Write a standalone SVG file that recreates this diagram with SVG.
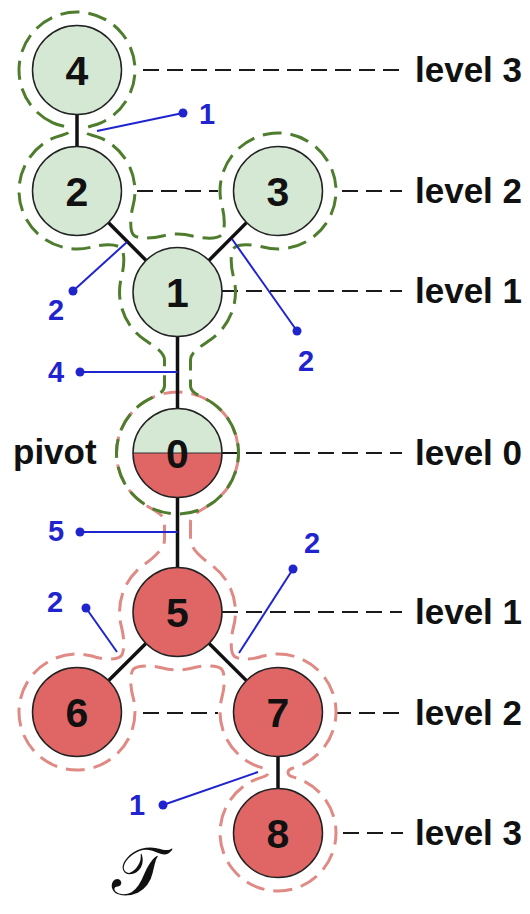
<svg xmlns="http://www.w3.org/2000/svg" width="530" height="914" viewBox="0 0 530 914">
  <style>
    .hull { fill: none; stroke-width: 3; stroke-dasharray: 19 9; stroke-linecap: butt; }
    .hull-g { stroke: #4e7d2e; }
    .hull-r { stroke: #df8a84; }
    .lvl { stroke: #1a1a1a; stroke-width: 2.2; stroke-dasharray: 16 8; fill: none; }
    .lvl-txt { font-family: "Liberation Sans", Arial, sans-serif; font-weight: bold; font-size: 35px; fill: #111; }
    .edge { stroke: #111; stroke-width: 3.5; }
    .node { stroke: #222; stroke-width: 1.5; }
    .g { fill: #d5e8d4; }
    .r { fill: #e06666; }
    .num { font-family: "Liberation Sans", Arial, sans-serif; font-weight: bold; font-size: 41px; fill: #111; text-anchor: middle; }
    .ann { stroke: #1f24cf; stroke-width: 2; fill: none; }
    .dot { fill: #1f24cf; }
    .ann-txt { font-family: "Liberation Sans", Arial, sans-serif; font-weight: bold; font-size: 29px; fill: #1f24cf; text-anchor: middle; }
  </style>

  <!-- level guide lines -->
  <g id="levels">
    <line class="lvl" x1="143" y1="70" x2="400" y2="70"/>
    <line class="lvl" x1="137" y1="191" x2="218" y2="191"/>
    <line class="lvl" x1="342" y1="191" x2="402" y2="191"/>
    <line class="lvl" x1="222" y1="291" x2="402" y2="291"/>
    <line class="lvl" x1="222" y1="453" x2="402" y2="453"/>
    <line class="lvl" x1="222" y1="612" x2="402" y2="612"/>
    <line class="lvl" x1="143" y1="713" x2="218" y2="713"/>
    <line class="lvl" x1="335" y1="713" x2="405" y2="713"/>
    <line class="lvl" x1="343" y1="833" x2="403" y2="833"/>
    <text class="lvl-txt" x="415" y="82">level 3</text>
    <text class="lvl-txt" x="415" y="203">level 2</text>
    <text class="lvl-txt" x="415" y="303">level 1</text>
    <text class="lvl-txt" x="415" y="465">level 0</text>
    <text class="lvl-txt" x="415" y="624">level 1</text>
    <text class="lvl-txt" x="415" y="725">level 2</text>
    <text class="lvl-txt" x="415" y="845">level 3</text>
  </g>

  <!-- dashed hulls around the two subtrees -->
  <g id="hulls">
    <path id="hull-lower" class="hull hull-r" d="M 142.5,503 A 61 61 0 1 1 212.5,503 C 202.7,509.9 190.5,514 190.5,522 L 190.5,540 C 190.5,548 201,557.6 210.8,564.5 A 58 58 0 0 1 233.5,627 C 230.9,636.7 229.9,651.9 234.1,656.1 C 238.3,660.3 253.3,659.6 263,656 A 58 58 0 0 1 302.5,764.6 C 293.4,768.8 288,768 288,772.5 C 288,777 293.4,776.2 302.5,780.4 A 58 58 0 1 1 253.5,780.4 C 262.6,776.2 268,777 268,772.5 C 268,768 262.6,768.8 253.5,764.6 A 58 58 0 0 1 222,697 C 224.6,687.3 225.6,673.1 221.4,668.9 C 217.2,664.7 202.2,665.4 192.5,668 A 58 58 0 0 1 162.5,668 C 152.8,665.4 137.8,664.7 133.6,668.9 C 129.4,673.1 130.4,688.3 133,697 A 58 58 0 1 1 92,656 C 101.7,659.6 116.7,660.3 120.9,656.1 C 125.1,651.9 124.1,636.7 121.5,627 A 58 58 0 0 1 144.2,564.5 C 154,557.6 164.5,548 164.5,540 L 164.5,522 C 164.5,514 152.3,509.9 142.5,503 Z"/>
    <path id="hull-upper" class="hull hull-g" d="M 52.5,122.6 A 58 58 0 1 1 101.5,122.6 C 92.4,126.8 85,126 85,130.5 C 85,135 92.4,134.2 101.5,138.4 A 58 58 0 0 1 133,206 C 130.4,215.7 129.4,230.9 133.6,235.1 C 137.8,239.3 152.8,238.6 162.5,236 A 58 58 0 0 1 192.5,236 C 202.2,238.6 217.2,239.3 221.4,235.1 C 225.6,230.9 224.6,215.7 222,206 A 58 58 0 1 1 263,247 C 253.3,244.4 238.3,243.7 234.1,247.9 C 229.9,252.1 230.9,267.3 233.5,277 A 58 58 0 0 1 210.8,339.5 C 201,346.4 190.5,352 190.5,360 L 190.5,386 C 190.5,394 202.7,396.1 212.5,403 A 61 61 0 1 1 142.5,403 C 152.3,396.1 164.5,394 164.5,386 L 164.5,360 C 164.5,352 154,346.4 144.2,339.5 A 58 58 0 0 1 121.5,277 C 124.1,267.3 125.1,252.1 120.9,247.9 C 116.7,243.7 101.7,244.4 92,247 A 58 58 0 0 1 52.5,138.4 C 61.6,134.2 69,135 69,130.5 C 69,126 61.6,126.8 52.5,122.6 Z"/>
  </g>

  <!-- tree edges -->
  <g id="edges">
    <line class="edge" x1="77" y1="70" x2="77" y2="191"/>
    <line class="edge" x1="77" y1="191" x2="177.5" y2="292"/>
    <line class="edge" x1="278" y1="191" x2="177.5" y2="292"/>
    <line class="edge" x1="177.5" y1="292" x2="177.5" y2="453"/>
    <line class="edge" x1="177.5" y1="453" x2="177.5" y2="612"/>
    <line class="edge" x1="177.5" y1="612" x2="77" y2="712"/>
    <line class="edge" x1="177.5" y1="612" x2="278" y2="712"/>
    <line class="edge" x1="278" y1="712" x2="278" y2="833"/>
  </g>

  <!-- edge-weight callouts -->
  <g id="weights">
    <line class="ann" x1="183" y1="113" x2="97" y2="131"/>
    <circle class="dot" cx="183" cy="113" r="4.5"/>
    <text class="ann-txt" x="207" y="124">1</text>

    <line class="ann" x1="73" y1="291" x2="127" y2="242"/>
    <circle class="dot" cx="73" cy="291" r="4.5"/>
    <text class="ann-txt" x="56" y="320">2</text>

    <line class="ann" x1="297" y1="331" x2="232" y2="239"/>
    <circle class="dot" cx="297" cy="331" r="4.5"/>
    <text class="ann-txt" x="306" y="371">2</text>

    <line class="ann" x1="80" y1="372" x2="177.5" y2="372"/>
    <circle class="dot" cx="80" cy="372" r="4.5"/>
    <text class="ann-txt" x="56" y="382">4</text>

    <line class="ann" x1="80" y1="532" x2="177.5" y2="532"/>
    <circle class="dot" cx="80" cy="532" r="4.5"/>
    <text class="ann-txt" x="56" y="541">5</text>

    <line class="ann" x1="86" y1="608" x2="117" y2="652"/>
    <circle class="dot" cx="86" cy="608" r="4.5"/>
    <text class="ann-txt" x="55" y="612">2</text>

    <line class="ann" x1="293" y1="569" x2="239" y2="653"/>
    <circle class="dot" cx="293" cy="569" r="4.5"/>
    <text class="ann-txt" x="312" y="553">2</text>

    <line class="ann" x1="163" y1="805" x2="258" y2="772"/>
    <circle class="dot" cx="163" cy="805" r="4.5"/>
    <text class="ann-txt" x="137" y="815">1</text>
  </g>

  <!-- nodes -->
  <g id="node-4"><circle class="node g" cx="77" cy="70" r="44.5"/><text class="num" x="77" y="84.5">4</text></g>
  <g id="node-2"><circle class="node g" cx="77" cy="191" r="44.5"/><text class="num" x="77" y="205.5">2</text></g>
  <g id="node-3"><circle class="node g" cx="278" cy="191" r="44.5"/><text class="num" x="278" y="205.5">3</text></g>
  <g id="node-1"><circle class="node g" cx="177.5" cy="292" r="44.5"/><text class="num" x="177.5" y="306.5">1</text></g>
  <g id="node-0">
    <path class="g" d="M 133,453 A 44.5 44.5 0 0 1 222,453 Z"/>
    <path class="r" d="M 133,453 A 44.5 44.5 0 0 0 222,453 Z"/>
    <line x1="133" y1="453" x2="222" y2="453" stroke="#333" stroke-width="1.2"/>
    <circle cx="177.5" cy="453" r="44.5" fill="none" stroke="#222" stroke-width="1.5"/>
    <text class="num" x="177.5" y="467.5">0</text>
    <text class="lvl-txt" x="13" y="464">pivot</text>
  </g>
  <g id="node-5"><circle class="node r" cx="177.5" cy="612" r="44.5"/><text class="num" x="177.5" y="626.5">5</text></g>
  <g id="node-6"><circle class="node r" cx="77" cy="712" r="44.5"/><text class="num" x="77" y="726.5">6</text></g>
  <g id="node-7"><circle class="node r" cx="278" cy="712" r="44.5"/><text class="num" x="278" y="726.5">7</text></g>
  <g id="node-8"><circle class="node r" cx="278" cy="833" r="44.5"/><text class="num" x="278" y="847.5">8</text></g>

  <!-- tree name -->
  <text x="110" y="895" font-family="'Noto Sans Math', 'STIX Two Math', 'DejaVu Serif', serif" font-size="66" fill="#111">𝒯</text>
</svg>
